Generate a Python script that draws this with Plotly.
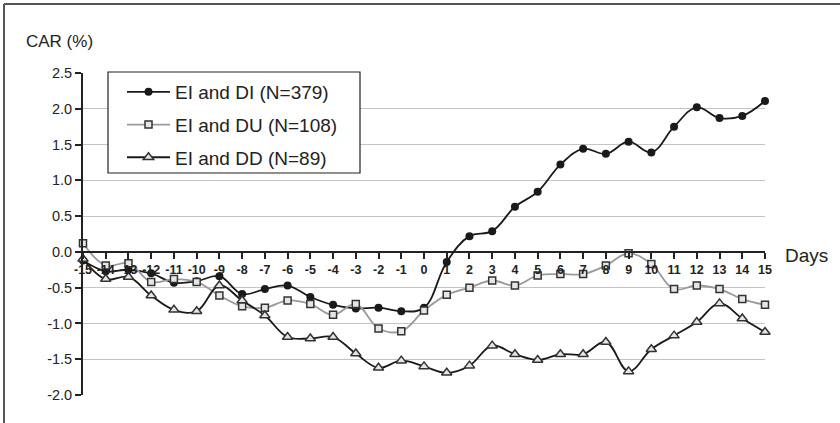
import plotly.graph_objects as go

days = list(range(-15, 16))
day_labels = [str(d) for d in days]

di_values = [-0.12, -0.27, -0.25, -0.30, -0.43, -0.41, -0.34, -0.59, -0.52, -0.47,
             -0.63, -0.74, -0.79, -0.78, -0.83, -0.78, -0.14, 0.22, 0.29, 0.63,
             0.84, 1.22, 1.44, 1.37, 1.54, 1.39, 1.75, 2.02, 1.87, 1.90, 2.11]
du_values = [0.12, -0.19, -0.16, -0.42, -0.38, -0.42, -0.61, -0.76, -0.78, -0.68,
             -0.73, -0.88, -0.73, -1.07, -1.11, -0.82, -0.60, -0.50, -0.40, -0.47,
             -0.33, -0.31, -0.31, -0.19, -0.02, -0.17, -0.52, -0.47, -0.52, -0.66, -0.74]
dd_values = [-0.10, -0.38, -0.35, -0.61, -0.81, -0.83, -0.47, -0.68, -0.89, -1.19,
             -1.21, -1.19, -1.42, -1.62, -1.52, -1.60, -1.69, -1.59, -1.31, -1.43,
             -1.51, -1.43, -1.43, -1.26, -1.67, -1.36, -1.17, -0.98, -0.72, -0.93, -1.12]

y_ticks = [2.5, 2.0, 1.5, 1.0, 0.5, 0.0, -0.5, -1.0, -1.5, -2.0]
y_tick_labels = ["2.5", "2.0", "1.5", "1.0", "0.5", "0.0", "-0.5", "-1.0", "-1.5", "-2.0"]

FONT = "Arial, Liberation Sans, sans-serif"
SMOOTH = 1.1

fig = go.Figure()
fig.add_trace(go.Scatter(
    x=days, y=di_values, name="EI and DI (N=379)", mode="lines+markers",
    line=dict(color="#1a1a1a", width=1.8, shape="spline", smoothing=SMOOTH),
    marker=dict(symbol="circle", size=8, color="#1a1a1a"),
    cliponaxis=False, legendgroup="a"))
fig.add_trace(go.Scatter(
    x=days, y=du_values, name="EI and DU (N=108)", mode="lines+markers",
    line=dict(color="#9a9a9a", width=1.8, shape="spline", smoothing=SMOOTH),
    marker=dict(symbol="square", size=7, color="#e6e6e6", line=dict(color="#333333", width=1.5)),
    cliponaxis=False, legendgroup="b"))
fig.add_trace(go.Scatter(
    x=days, y=dd_values, name="EI and DD (N=89)", mode="lines+markers",
    line=dict(color="#1a1a1a", width=1.8, shape="spline", smoothing=SMOOTH),
    marker=dict(symbol="triangle-up", size=9, color="#e6e6e6", line=dict(color="#333333", width=1.5)),
    cliponaxis=False, legendgroup="c"))

PW, PH, L, T = 682, 322, 83, 73


def px_x(p):
    return (p - L) / PW


def px_y(p):
    return (T + PH - p) / PH


y_min, y_max = -2.0, 2.5
fig.update_layout(
    width=840, height=423,
    margin=dict(l=83, r=75, t=73, b=28),
    paper_bgcolor="white", plot_bgcolor="white",
    font=dict(family=FONT, color="#222222"),
    showlegend=True,
    legend=dict(
        x=px_x(122), y=px_y(73), xanchor="left", yanchor="top",
        bgcolor="rgba(0,0,0,0)", borderwidth=0,
        font=dict(size=19, family=FONT, color="#222222"),
        traceorder="grouped", tracegroupgap=5,
        itemwidth=43,
    ),
    xaxis=dict(
        range=[-15, 15], tickvals=days, ticktext=day_labels,
        anchor="free", position=(0 - y_min) / (y_max - y_min),
        showline=True, linecolor="#222222", linewidth=1.8,
        ticks="outside", ticklen=6, tickcolor="#222222", tickwidth=1.5,
        tickfont=dict(size=12.5, family=FONT, color="#222222", weight="bold"),
        showgrid=False, zeroline=False,
    ),
    yaxis=dict(
        range=[y_min, y_max], tickvals=y_ticks, ticktext=y_tick_labels,
        showline=True, linecolor="#222222", linewidth=1.8,
        ticks="outside", ticklen=6, tickcolor="#222222", tickwidth=1.5,
        tickfont=dict(size=14.5, family=FONT, color="#222222"),
        showgrid=True, gridcolor="#c4c4c4", gridwidth=1,
        zeroline=False,
    ),
    annotations=[
        dict(text="CAR (%)", xref="paper", yref="paper",
             x=px_x(24), y=px_y(41), xanchor="left", yanchor="middle",
             showarrow=False, font=dict(size=17, family=FONT, color="#222222")),
        dict(text="Days", xref="paper", yref="paper",
             x=px_x(783), y=px_y(255), xanchor="left", yanchor="middle",
             showarrow=False, font=dict(size=19, family=FONT, color="#222222")),
    ],
    shapes=[
        dict(type="rect", xref="paper", yref="paper", layer="above",
             x0=px_x(108), x1=px_x(360), y0=px_y(173), y1=px_y(72),
             fillcolor="white", line=dict(color="#222222", width=1.2)),
        dict(type="line", xref="paper", yref="paper",
             x0=px_x(4), x1=1.3, y0=px_y(4), y1=px_y(4),
             line=dict(color="#555555", width=2)),
        dict(type="line", xref="paper", yref="paper",
             x0=px_x(4), x1=px_x(4), y0=px_y(4), y1=-0.3,
             line=dict(color="#555555", width=2)),
    ],
)

fig.write_html("out.html", config={"displayModeBar": False},
               post_script="document.body.style.margin='0px';")
